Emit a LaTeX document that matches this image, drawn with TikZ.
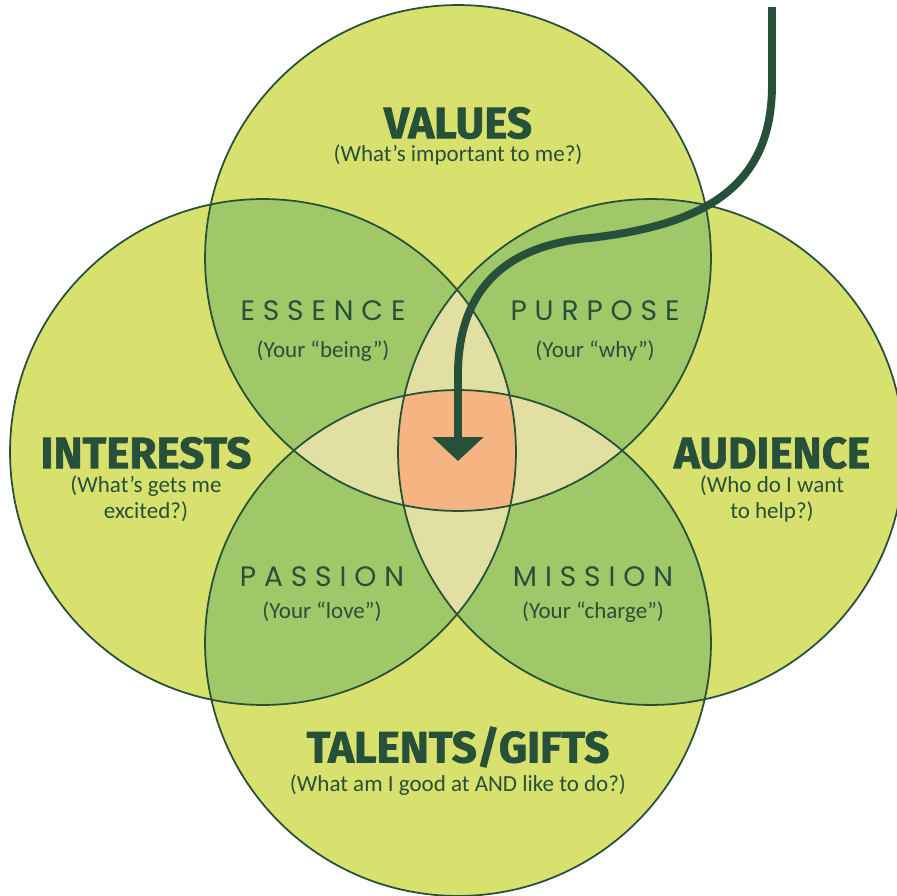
\documentclass[tikz,border=0pt]{standalone}
\usepackage{fontspec}
\setmainfont{Carlito}
\newfontfamily\headfont[BoldFeatures={FakeBold=1.5}]{Fira Sans}
\newfontfamily\capfont[LetterSpace=28]{Poppins}
\usepackage{tikz}
\usetikzlibrary{arrows.meta}

\definecolor{leaf}{HTML}{D9E16E}
\definecolor{moss}{HTML}{A0C768}
\definecolor{straw}{HTML}{E1DFA2}
\definecolor{peach}{HTML}{F6B482}
\definecolor{ink}{HTML}{27503A}

\begin{document}
\begin{tikzpicture}[x=0.02cm,y=-0.02cm,
		heading/.style={text=ink,inner sep=0pt,font=\headfont\bfseries\fontsize{25}{28}\selectfont},
		subline/.style={text=ink,inner sep=0pt,font=\fontsize{13.1}{15}\selectfont,align=center},
		pairname/.style={text=ink,inner sep=0pt,font=\capfont\fontsize{16}{18}\selectfont},
		ring/.style={draw=ink,line width=1pt},
		pointer/.style={draw=ink,line width=4.5pt,-{Triangle[width=1cm,length=0.48cm]}}]
		\useasboundingbox (0,0) rectangle (897,896);
		
		% centres of the four circles
		\coordinate (vc) at (458,258);
		\coordinate (ic) at (263,452);
		\coordinate (ac) at (651,452);
		\coordinate (tc) at (458,643);
		
		% single circles
		\foreach \c in {vc,ic,ac,tc}
			\fill[leaf] (\c) circle (5.06cm);
		
		% two circles
		\begin{scope}
			\clip (vc) circle (5.06cm);
			\fill[moss] (ic) circle (5.06cm);
			\fill[moss] (ac) circle (5.06cm);
		\end{scope}
		\begin{scope}
			\clip (tc) circle (5.06cm);
			\fill[moss] (ic) circle (5.06cm);
			\fill[moss] (ac) circle (5.06cm);
		\end{scope}
		
		% three circles
		\begin{scope}
			\clip (vc) circle (5.06cm);
			\clip (ic) circle (5.06cm);
			\fill[straw] (ac) circle (5.06cm);
			\fill[straw] (tc) circle (5.06cm);
		\end{scope}
		\begin{scope}
			\clip (tc) circle (5.06cm);
			\clip (ac) circle (5.06cm);
			\fill[straw] (vc) circle (5.06cm);
			\fill[straw] (ic) circle (5.06cm);
		\end{scope}
		
		% all four
		\begin{scope}
			\clip (vc) circle (5.06cm);
			\clip (ic) circle (5.06cm);
			\clip (ac) circle (5.06cm);
			\fill[peach] (tc) circle (5.06cm);
		\end{scope}
		
		\foreach \c in {vc,ic,ac,tc}
			\draw[ring] (\c) circle (5.06cm);
		
		% the arrow into the middle
		\coordinate (entry) at (772,7);
		\coordinate (core) at (458,461);
		\draw[pointer] (entry) -- (772,85) .. controls (772,190) and (700,225) .. (590,238)
			.. controls (510,245) and (460,285) .. (458,370) -- (core);
		
		% outer labels
		\node[heading] (values) at (458,123) {VALUES};
		\node[subline] (valuesq) at (458,155) {(What’s important to me?)};
		
		\node[heading] (interests) at (146,453) {INTERESTS};
		\node[subline] (interestsq) at (146,499) {(What’s gets me\\excited?)};
		
		\node[heading] (audience) at (772,453) {AUDIENCE};
		\node[subline] (audienceq) at (772,499) {(Who do I want\\to help?)};
		
		\node[heading] (talents) at (458,747) {TALENTS/GIFTS};
		\node[subline] (talentsq) at (458,785) {(What am I good at AND like to do?)};
		
		% overlap labels
		\node[pairname] (essence) at (323,311) {ESSENCE};
		\node[subline] (essenceq) at (323,351) {(Your “being”)};
		
		\node[pairname] (purpose) at (595,311) {PURPOSE};
		\node[subline] (purposeq) at (595,351) {(Your “why”)};
		
		\node[pairname] (passion) at (322,577) {PASSION};
		\node[subline] (passionq) at (322,612) {(Your “love”)};
		
		\node[pairname] (mission) at (593,577) {MISSION};
		\node[subline] (missionq) at (593,612) {(Your “charge”)};
	\end{tikzpicture}
\end{document}
